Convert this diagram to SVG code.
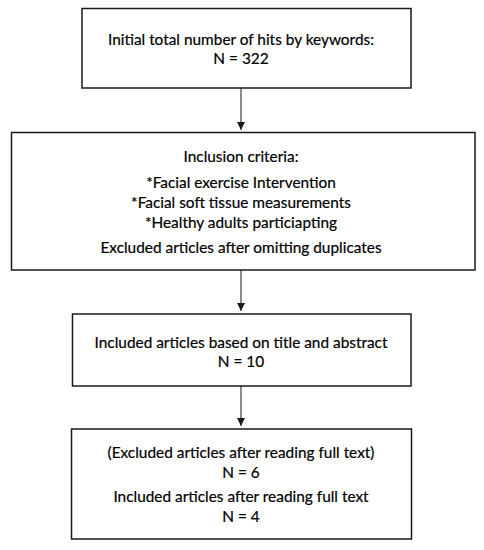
<svg xmlns="http://www.w3.org/2000/svg" width="484" height="550" viewBox="0 0 484 550">
<defs>
<style>
.box{fill:#fff;stroke:#1a1a1a;stroke-width:1.5}
.t{font-family:Lato,"Liberation Sans",sans-serif;font-size:15.4px;fill:#000;stroke:#000;stroke-width:0.2;text-anchor:middle}
.c{stroke:#1a1a1a;stroke-width:1;fill:none}
</style>
<marker id="ah" viewBox="0 0 8 10" refX="8" refY="5" markerWidth="8" markerHeight="10" markerUnits="userSpaceOnUse" orient="auto">
<path d="M0,1 L8,5 L0,9 Z" fill="#1a1a1a"/>
</marker>
</defs>
<rect width="484" height="550" fill="#fff"/>
<g id="connectors">
<line class="c" x1="241" y1="88" x2="241" y2="130" marker-end="url(#ah)"/>
<line class="c" x1="241" y1="270" x2="241" y2="311" marker-end="url(#ah)"/>
<line class="c" x1="241" y1="386" x2="241" y2="426" marker-end="url(#ah)"/>
</g>
<g id="node1">
<rect class="box" x="82" y="8.5" width="329" height="79.5"/>
<text class="t" x="241" y="45">Initial total number of hits by keywords:</text>
<text class="t" x="241" y="63.5">N = 322</text>
</g>
<g id="node2">
<rect class="box" x="11.5" y="132.5" width="463.5" height="137.5"/>
<text class="t" x="241" y="162">Inclusion criteria:</text>
<text class="t" x="241" y="187.5">*Facial exercise Intervention</text>
<text class="t" x="241" y="207.5">*Facial soft tissue measurements</text>
<text class="t" x="241" y="227.5">*Healthy adults particiapting</text>
<text class="t" x="241" y="252.5">Excluded articles after omitting duplicates</text>
</g>
<g id="node3">
<rect class="box" x="72.5" y="314" width="338.5" height="72"/>
<text class="t" x="241" y="348">Included articles based on title and abstract</text>
<text class="t" x="241" y="367">N = 10</text>
</g>
<g id="node4">
<rect class="box" x="71.5" y="429" width="340" height="110"/>
<text class="t" x="241" y="458">(Excluded articles after reading full text)</text>
<text class="t" x="241" y="477.5">N = 6</text>
<text class="t" x="241" y="501.5">Included articles after reading full text</text>
<text class="t" x="241" y="521.5">N = 4</text>
</g>
</svg>
